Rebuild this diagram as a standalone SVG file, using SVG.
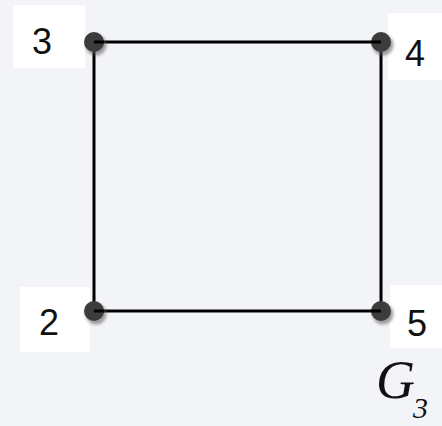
<svg xmlns="http://www.w3.org/2000/svg" width="442" height="426" viewBox="0 0 442 426">
<style>
.lbl{font-family:"Liberation Sans",Arial,sans-serif;font-size:36px;fill:#111;}
.box{fill:#ffffff;}
.edge{stroke:#000;stroke-width:3;fill:none;}
.dot{fill:#3c3c3c;}
.sh{fill:#555;opacity:0.55;filter:url(#blur);}
.g{font-family:"Liberation Serif","Times New Roman",serif;font-style:italic;fill:#111;}
</style>
<defs>
<filter id="blur" x="-50%" y="-50%" width="200%" height="200%"><feGaussianBlur stdDeviation="1.5"/></filter>
</defs>
<rect width="442" height="426" fill="#f3f4f8"/>
<g id="label-boxes">
<rect class="box" x="13" y="5" width="72" height="63"/>
<rect class="box" x="388" y="13" width="54" height="67"/>
<rect class="box" x="20" y="287" width="70" height="65"/>
<rect class="box" x="390" y="285" width="52" height="63"/>
</g>
<g id="edges">
<line class="edge" x1="94" y1="42" x2="381" y2="42"/>
<line class="edge" x1="94" y1="311" x2="381" y2="311"/>
<line class="edge" x1="94" y1="42" x2="94" y2="311"/>
<line class="edge" x1="381" y1="42" x2="381" y2="311"/>
</g>
<g id="node3">
<circle class="sh" cx="96" cy="45" r="10.5"/>
<circle class="dot" cx="94" cy="42" r="10"/>
<line class="edge" x1="94" y1="42" x2="104" y2="42"/>
<text class="lbl" x="32" y="54">3</text>
</g>
<g id="node4">
<circle class="sh" cx="383" cy="45" r="10.5"/>
<circle class="dot" cx="381" cy="42" r="10"/>
<line class="edge" x1="371" y1="42" x2="381" y2="42"/>
<text class="lbl" x="405" y="66">4</text>
</g>
<g id="node2">
<circle class="sh" cx="96" cy="314" r="10.5"/>
<circle class="dot" cx="94" cy="311" r="10"/>
<line class="edge" x1="94" y1="311" x2="104" y2="311"/>
<text class="lbl" x="39" y="335">2</text>
</g>
<g id="node5">
<circle class="sh" cx="383" cy="314" r="10.5"/>
<circle class="dot" cx="381" cy="311" r="10"/>
<line class="edge" x1="371" y1="311" x2="381" y2="311"/>
<text class="lbl" x="407" y="336">5</text>
</g>
<g id="title">
<text class="g" x="376" y="398" font-size="54">G</text>
<text class="g" x="413" y="418" font-size="30">3</text>
</g>
</svg>
